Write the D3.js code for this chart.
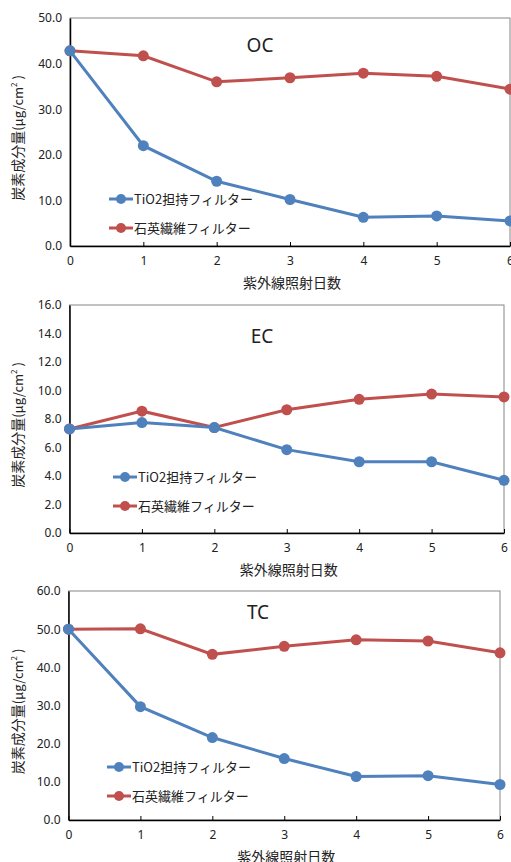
<!DOCTYPE html>
<html>
<head>
<meta charset="utf-8">
<script src="https://cdn.jsdelivr.net/npm/d3@7"></script>
<style>
body { margin:0; background:#fff; }
text { font-family: "Noto Sans CJK JP", "Noto Sans", sans-serif; fill:#222; }
</style>
</head>
<body>
<script>
// days of UV exposure
var days = [0, 1, 2, 3, 4, 5, 6];
var seriesNames = ["TiO2担持フィルター", "石英繊維フィルター"];
var colors = ["#4F81BD", "#C0504D"];

// OC
var ocTiO2 = [42.8, 22.0, 14.2, 10.2, 6.3, 6.6, 5.5];
var ocQuartz = [42.8, 41.7, 36.0, 36.9, 37.9, 37.2, 34.4];
var ocTicks = [0, 10, 20, 30, 40, 50];
// EC
var ecTiO2 = [7.3, 7.75, 7.4, 5.85, 5.0, 5.0, 3.7];
var ecQuartz = [7.3, 8.55, 7.4, 8.65, 9.38, 9.75, 9.55];
var ecTicks = [0, 2, 4, 6, 8, 10, 12, 14, 16];
// TC
var tcTiO2 = [50.0, 29.7, 21.6, 16.1, 11.4, 11.6, 9.3];
var tcQuartz = [50.0, 50.1, 43.4, 45.5, 47.2, 46.9, 43.8];
var tcTicks = [0, 10, 20, 30, 40, 50, 60];

var panels = [
	{title:"OC", series:[ocTiO2, ocQuartz], ticks:ocTicks, max:50,
	 left:70, right:510, top:18, bottom:246, titleX:260, titleY:52, legX:109, legY:199},
	{title:"EC", series:[ecTiO2, ecQuartz], ticks:ecTicks, max:16,
	 left:69.5, right:504, top:305, bottom:533, titleX:262, titleY:343, legX:113, legY:477},
	{title:"TC", series:[tcTiO2, tcQuartz], ticks:tcTicks, max:60,
	 left:68.5, right:500, top:591, bottom:820, titleX:258, titleY:619, legX:107, legY:767}
];

var svg = d3.select("body").append("svg")
	.attr("width", 511).attr("height", 862);

panels.forEach(function(p) {
	var x = d3.scaleLinear().domain([0, 6]).range([p.left, p.right]);
	var y = d3.scaleLinear().domain([0, p.max]).range([p.bottom, p.top]);
	var g = svg.append("g");

	// plot frame (top/right grey)
	g.append("rect")
		.attr("x", p.left).attr("y", p.top)
		.attr("width", p.right - p.left).attr("height", p.bottom - p.top)
		.style("fill", "none").style("stroke", "#868686").style("stroke-width", 1);

	// y axis
	var ya = g.append("g")
		.attr("transform", "translate(" + p.left + ",0)")
		.call(d3.axisLeft(y).tickValues(p.ticks).tickSize(0).tickPadding(8)
			.tickFormat(d3.format(".1f")));
	ya.select(".domain").style("stroke", "#000").style("stroke-width", 1.5);
	ya.selectAll("text").style("font-size", "12px")
		.style("font-family", "'Noto Sans', sans-serif");

	// x axis, ticks pointing in
	var xa = g.append("g")
		.attr("transform", "translate(0," + p.bottom + ")")
		.call(d3.axisBottom(x).tickValues(days).tickSizeInner(-4).tickSizeOuter(0)
			.tickPadding(10).tickFormat(d3.format("d")));
	xa.select(".domain").style("stroke", "#000").style("stroke-width", 1.5);
	xa.selectAll(".tick line").style("stroke", "#000");
	xa.selectAll("text").style("font-size", "12px")
		.style("font-family", "'Noto Sans', sans-serif");

	// axis titles
	g.append("text")
		.attr("x", (p.left + p.right) / 2 + 2).attr("y", p.bottom + 42)
		.attr("text-anchor", "middle")
		.style("font-size", "14px")
		.text("紫外線照射日数");

	var yl = g.append("text")
		.attr("transform", "translate(23," + ((p.top + p.bottom) / 2 + 6) + ") rotate(-90)")
		.attr("text-anchor", "middle")
		.style("font-size", "14px");
	yl.append("tspan").text("炭素成分量");
	yl.append("tspan").style("font-size", "13px").text("(μg/cm");
	yl.append("tspan").style("font-size", "8px").attr("dy", -6).text("2");
	yl.append("tspan").style("font-size", "13px").attr("dy", 6).text(" )");

	// title
	g.append("text")
		.attr("x", p.titleX).attr("y", p.titleY)
		.attr("text-anchor", "middle")
		.style("font-size", "19px")
		.style("font-family", "'Noto Sans', sans-serif")
		.text(p.title);

	// series
	var line = d3.line()
		.x(function(d, i) { return x(days[i]); })
		.y(function(d) { return y(d); });

	[1, 0].forEach(function(k) {
		var vals = p.series[k];
		g.append("path")
			.datum(vals)
			.attr("d", line)
			.style("fill", "none")
			.style("stroke", colors[k])
			.style("stroke-width", 3);
		g.selectAll(".pt" + k)
			.data(vals)
			.enter().append("circle")
			.attr("class", "pt" + k)
			.attr("cx", function(d, i) { return x(days[i]); })
			.attr("cy", function(d) { return y(d); })
			.attr("r", 5.5)
			.style("fill", colors[k]);
	});

	// legend
	seriesNames.forEach(function(name, k) {
		var ly = p.legY + k * 29;
		g.append("line")
			.attr("x1", p.legX).attr("x2", p.legX + 24)
			.attr("y1", ly).attr("y2", ly)
			.style("stroke", colors[k]).style("stroke-width", 3);
		g.append("circle")
			.attr("cx", p.legX + 12).attr("cy", ly).attr("r", 5)
			.style("fill", colors[k]);
		g.append("text")
			.attr("x", p.legX + 25).attr("y", ly + 5)
			.style("font-size", "13px")
			.text(name);
	});
});
</script>
</body>
</html>
